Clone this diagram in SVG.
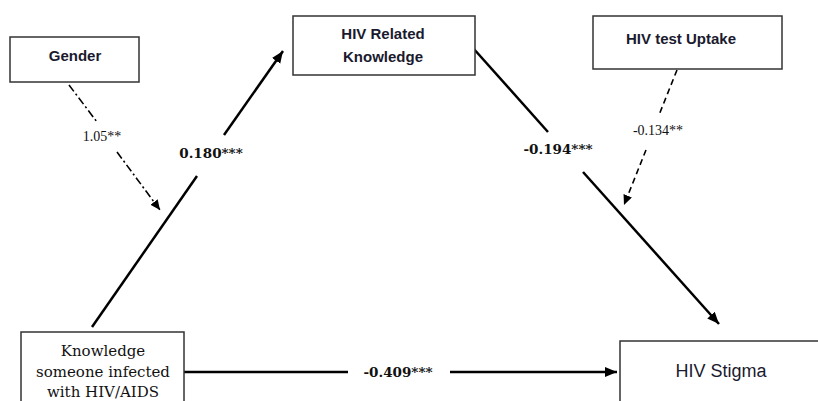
<svg xmlns="http://www.w3.org/2000/svg" width="818" height="401" viewBox="0 0 818 401">
<defs>
<style>
.box{fill:#fff;stroke:#333;stroke-width:1.5}
.sans{font-family:"Liberation Sans",Arial,sans-serif;font-weight:bold;font-size:15px;fill:#1a1a2e;text-anchor:middle}
.serif{font-family:"DejaVu Serif",serif;font-size:15px;fill:#111;text-anchor:middle}
.lab{font-family:"DejaVu Serif",serif;font-weight:bold;font-size:13.5px;fill:#111;text-anchor:middle}
.labn{font-family:"Liberation Serif",serif;font-size:14px;fill:#111;text-anchor:middle}
.solid{stroke:#000;stroke-width:2.5;fill:none}
.dd{stroke:#000;stroke-width:1.6;fill:none;stroke-dasharray:8 3 2 3}
.dash{stroke:#000;stroke-width:1.6;fill:none;stroke-dasharray:6 4}
</style>
<marker id="ah" markerUnits="userSpaceOnUse" markerWidth="14" markerHeight="12" refX="12" refY="5" orient="auto">
<path d="M0,0 L12,5 L0,10 Z" fill="#000"/>
</marker>
<marker id="ahs" markerUnits="userSpaceOnUse" markerWidth="12" markerHeight="10" refX="10" refY="4.5" orient="auto">
<path d="M0,0 L10,4.5 L0,9 Z" fill="#000"/>
</marker>
</defs>
<rect width="818" height="401" fill="#fff"/>
<g id="connectors">
<line class="solid" x1="92" y1="327" x2="197" y2="176"/>
<line class="solid" x1="224" y1="135" x2="283" y2="51" marker-end="url(#ah)"/>
<line class="solid" x1="473" y1="48" x2="548" y2="132"/>
<line class="solid" x1="583" y1="172" x2="719" y2="324" marker-end="url(#ah)"/>
<line class="solid" x1="184" y1="372" x2="348" y2="372"/>
<line class="solid" x1="450" y1="372" x2="617" y2="372" marker-end="url(#ah)"/>
<line class="dd" x1="69" y1="85" x2="97" y2="122"/>
<line class="dd" x1="117" y1="152" x2="160" y2="210" marker-end="url(#ahs)"/>
<line class="dash" x1="677" y1="70" x2="659" y2="115"/>
<line class="dash" x1="646" y1="150" x2="624" y2="205" marker-end="url(#ahs)"/>
<text class="lab" x="211" y="158">0.180***</text>
<text class="lab" x="558" y="154">-0.194***</text>
<text class="lab" x="398" y="377">-0.409***</text>
<text class="labn" x="102" y="141">1.05**</text>
<text class="labn" x="658" y="135">-0.134**</text>
</g>
<g id="gender">
<rect class="box" x="10" y="37" width="129" height="45"/>
<text class="sans" x="75" y="61">Gender</text>
</g>
<g id="knowledge_hiv">
<rect class="box" x="293" y="16" width="182" height="59"/>
<text class="sans" x="383" y="39">HIV Related</text>
<text class="sans" x="383" y="62">Knowledge</text>
</g>
<g id="test_uptake">
<rect class="box" x="593" y="16" width="189" height="53"/>
<text class="sans" x="681" y="44">HIV test Uptake</text>
</g>
<g id="knowledge_someone">
<rect class="box" x="21" y="332" width="163" height="80"/>
<text class="serif" x="103" y="356">Knowledge</text>
<text class="serif" x="103" y="377">someone infected</text>
<text class="serif" x="103" y="397">with HIV/AIDS</text>
</g>
<g id="stigma">
<rect class="box" x="620" y="341" width="210" height="70"/>
<text class="sans" style="font-weight:normal;font-size:18px" x="721" y="377">HIV Stigma</text>
</g>
</svg>
